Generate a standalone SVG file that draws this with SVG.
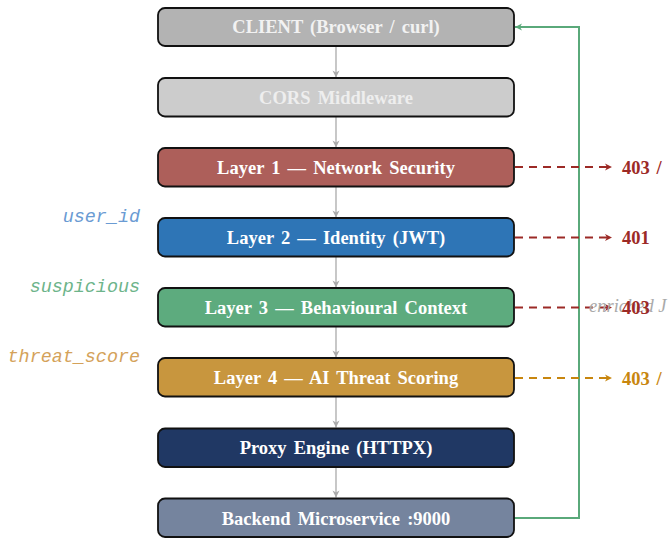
<svg xmlns="http://www.w3.org/2000/svg" width="668" height="539" viewBox="0 0 668 539">
<style>
.box{stroke:#111;stroke-width:1.8}
.lbl{font-family:"Liberation Serif",serif;font-weight:bold;font-size:18.5px;text-anchor:middle;fill:#fff;word-spacing:2.5px}
.side{font-family:"Liberation Mono",monospace;font-style:italic;font-size:18.4px;text-anchor:end}
.flow{stroke:#aaaaaa;stroke-width:1.3;fill:none;marker-end:url(#ag)}
.rej{stroke:#9c2a26;stroke-width:1.8;fill:none;stroke-dasharray:8,6;marker-end:url(#ar)}
.rejo{stroke:#c8860e;stroke-width:1.8;fill:none;stroke-dasharray:8,6;marker-end:url(#ao)}
.code{font-family:"Liberation Serif",serif;font-weight:bold;font-size:18.5px;word-spacing:2px}
</style>
<defs>
<marker id="ag" markerWidth="10" markerHeight="10" refX="8" refY="5" orient="auto" markerUnits="userSpaceOnUse"><path d="M1,1.5 L8,5 L1,8.5 L3,5 Z" fill="#aaaaaa"/></marker>
<marker id="ar" markerWidth="10" markerHeight="10" refX="8" refY="5" orient="auto" markerUnits="userSpaceOnUse"><path d="M1,1.5 L8,5 L1,8.5 L3,5 Z" fill="#9c2a26"/></marker>
<marker id="ao" markerWidth="10" markerHeight="10" refX="8" refY="5" orient="auto" markerUnits="userSpaceOnUse"><path d="M1,1.5 L8,5 L1,8.5 L3,5 Z" fill="#c8860e"/></marker>
<marker id="agr" markerWidth="10" markerHeight="10" refX="8" refY="5" orient="auto" markerUnits="userSpaceOnUse"><path d="M1,1.5 L8,5 L1,8.5 L3,5 Z" fill="#5aa97a"/></marker>
</defs>
<g id="connectors">
<path class="flow" d="M336,46.5 V77.5"/>
<path class="flow" d="M336,116.5 V147.5"/>
<path class="flow" d="M336,186.5 V217.5"/>
<path class="flow" d="M336,256.5 V287.5"/>
<path class="flow" d="M336,326.5 V357.5"/>
<path class="flow" d="M336,396.5 V427.5"/>
<path class="flow" d="M336,466.5 V497.5"/>
<path d="M514,518 H579 V27 H515" stroke="#5aa97a" stroke-width="2" fill="none" marker-end="url(#agr)"/>
<path class="rej" d="M515,167 H612"/>
<path class="rej" d="M515,237.5 H612"/>
<path class="rej" d="M515,307.5 H612"/>
<path class="rejo" d="M515,378 H612"/>
</g>
<g id="client"><rect class="box" x="158" y="8" width="356" height="38" rx="7" fill="#b3b3b3"/><text class="lbl" x="336" y="33" style="fill:#f2f2f2">CLIENT (Browser / curl)</text></g>
<g id="cors"><rect class="box" x="158" y="78" width="356" height="38.5" rx="7" fill="#cccccc"/><text class="lbl" x="336" y="103.5" style="fill:#eeeeee">CORS Middleware</text></g>
<g id="layer1"><rect class="box" x="158" y="148" width="356" height="38.5" rx="7" fill="#ad5f5a"/><text class="lbl" x="336" y="173.5">Layer 1 — Network Security</text></g>
<g id="layer2"><rect class="box" x="158" y="218" width="356" height="38.5" rx="7" fill="#2e75b6"/><text class="lbl" x="336" y="243.5">Layer 2 — Identity (JWT)</text></g>
<g id="layer3"><rect class="box" x="158" y="288" width="356" height="38.5" rx="7" fill="#5dab7e"/><text class="lbl" x="336" y="313.5">Layer 3 — Behavioural Context</text></g>
<g id="layer4"><rect class="box" x="158" y="358" width="356" height="38.5" rx="7" fill="#c8963e"/><text class="lbl" x="336" y="384">Layer 4 — AI Threat Scoring</text></g>
<g id="proxy"><rect class="box" x="158" y="428.5" width="356" height="38.5" rx="7" fill="#203864"/><text class="lbl" x="336" y="454">Proxy Engine (HTTPX)</text></g>
<g id="backend"><rect class="box" x="158" y="498.5" width="356" height="38.5" rx="7" fill="#75849e"/><text class="lbl" x="336" y="524.5">Backend Microservice :9000</text></g>
<g id="side-labels">
<text class="side" x="140" y="222" fill="#6a9bd3">user_id</text>
<text class="side" x="140" y="292" fill="#6db48a">suspicious</text>
<text class="side" x="140" y="362" fill="#d4a25a">threat_score</text>
</g>
<g id="codes">
<text x="589" y="312" font-family="Liberation Serif,serif" font-style="italic" font-size="18.5" fill="#aaaaaa">enriched J</text>
<text class="code" x="622" y="173.5" fill="#9c2a26">403 /</text>
<text class="code" x="622" y="244" fill="#9c2a26">401</text>
<text class="code" x="622" y="314" fill="#9c2a26">403</text>
<text class="code" x="622" y="384.5" fill="#c8860e">403 /</text>
</g>
</svg>
